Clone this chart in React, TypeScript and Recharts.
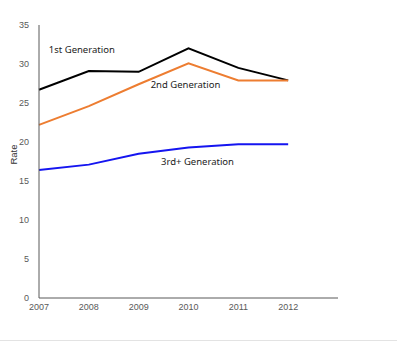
import { LineChart, Line, XAxis, YAxis } from "recharts";

const years = [2007, 2008, 2009, 2010, 2011, 2012];
const firstGen = [26.7, 29.1, 29.0, 32.0, 29.5, 27.9];
const secondGen = [22.2, 24.6, 27.4, 30.1, 27.9, 27.9];
const thirdGen = [16.4, 17.1, 18.5, 19.3, 19.7, 19.7];
const yTicks = [0, 5, 10, 15, 20, 25, 30, 35];

const data = years.map((y, i) => ({
    year: y,
    first: firstGen[i],
    second: secondGen[i],
    third: thirdGen[i],
}));

// series name tags hang off one point of each line
function tagAt(text: string, index: number, dx: number, dy: number) {
    return (props: any) => {
        if (props.index !== index) return null;
        return (
            <text
                x={props.x + dx}
                y={props.y + dy}
                textAnchor="middle"
                dominantBaseline="middle"
                fontSize={9.5}
                fontFamily="'Noto Sans', sans-serif"
                fill="#222"
            >
                {text}
            </text>
        );
    };
}

const tickStyle = { fontSize: 9, fill: "#595959", fontFamily: "'Liberation Sans', Arial, sans-serif" };

export default function App() {
    return (
        <div style={{ position: "absolute", left: 0, top: 0, width: 397, height: 340, borderBottom: "1px solid #e3e3e3", background: "#fff" }}>
            <LineChart width={397} height={340} data={data} margin={{ top: 25, right: 59, left: 0, bottom: 12 }}>
                <XAxis
                    dataKey="year"
                    type="number"
                    domain={[2007, 2013]}
                    ticks={years}
                    tickLine={false}
                    tickSize={4}
                    tick={tickStyle}
                    stroke="#595959"
                    height={30}
                    interval={0}
                />
                <YAxis
                    domain={[0, 35]}
                    ticks={yTicks}
                    tickLine={false}
                    tickMargin={4}
                    tick={tickStyle}
                    stroke="#595959"
                    width={39}
                    label={{ value: "Rate", angle: -90, position: "center", dx: -6, dy: -7, style: { fontSize: 9.5, fill: "#333", fontFamily: "'Liberation Sans', Arial, sans-serif" } }}
                />
                <Line dataKey="first" stroke="#000000" strokeWidth={2} dot={false} isAnimationActive={false} label={tagAt("1st Generation", 1, -7, -21)} />
                <Line dataKey="second" stroke="#ED7D31" strokeWidth={2} dot={false} isAnimationActive={false} label={tagAt("2nd Generation", 3, -3, 22)} />
                <Line dataKey="third" stroke="#1515F0" strokeWidth={2} dot={false} isAnimationActive={false} label={tagAt("3rd+ Generation", 3, 9, 15)} />
            </LineChart>
        </div>
    );
}
